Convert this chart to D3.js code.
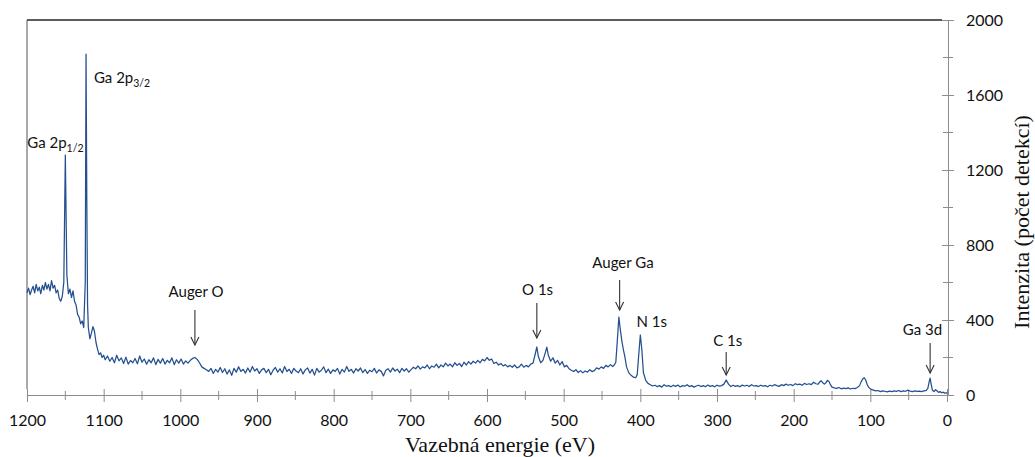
<!DOCTYPE html>
<html>
<head>
<meta charset="utf-8">
<script src="https://cdn.jsdelivr.net/npm/d3@7"></script>
<style>
  body { margin: 0; background: #fff; }
  svg { display: block; }
</style>
</head>
<body>
<svg id="xps" width="1035" height="457"></svg>
<script>
// XPS survey spectrum: [binding energy (eV), counts]
const spectrum = [
  [1200,545],[1198,570],[1196,535],[1194,560],[1192,580],[1190,545],[1188,590],[1186,555],[1184,575],[1182,540],
  [1180,585],[1178,560],[1176,600],[1174,565],[1172,590],[1170,555],[1168,610],[1166,570],[1164,585],[1162,545],
  [1160,560],[1158,515],[1156,500],[1154,525],[1152,600],[1150,1280],[1148,640],[1146,540],[1144,565],[1142,520],
  [1140,555],[1138,500],[1136,480],[1134,430],[1132,415],[1130,380],[1128,395],[1126,360],[1124,600],[1123,1818],
  [1122,1050],[1121,480],[1120,360],[1118,300],[1116,330],[1114,365],[1112,340],[1110,280],[1108,245],[1106,215],
  [1104,225],[1102,200],[1100,212],
  [1098,188],[1095,208],[1092,180],[1089,200],[1086,172],[1083,212],[1080,182],[1077,198],[1074,168],[1071,202],
  [1068,165],[1065,184],[1062,172],[1059,195],[1056,166],[1053,208],[1050,175],[1047,192],[1044,164],[1041,188],
  [1038,172],[1035,198],[1032,162],[1029,190],[1026,170],[1023,195],[1020,165],[1017,185],[1014,172],[1011,198],
  [1008,162],[1005,188],[1002,170],[999,192],[996,165],[993,182],[990,170],[987,185],[984,195],[981,200],
  [978,190],[975,172],[972,150],[969,142],[966,135],
  [963,126],[960,142],[957,115],[954,137],[951,122],[948,147],[945,120],[942,140],[939,112],[936,134],
  [933,105],[930,142],[927,122],[924,150],[921,126],[918,137],[915,117],[912,144],[909,122],[906,152],
  [903,128],[900,140],[897,115],[894,134],[891,142],[888,119],[885,137],[882,108],[879,132],[876,147],
  [873,122],[870,140],[867,117],[864,152],[861,125],[858,137],[855,115],[852,142],[849,128],[846,119],
  [843,140],[840,112],[837,134],[834,144],[831,117],[828,137],[825,106],[822,142],[819,122],[816,132],
  [813,150],[810,119],[807,138],[804,115],[801,134],[798,126],[795,142],[792,112],[789,137],[786,122],
  [783,152],[780,126],[777,137],[774,117],[771,140],[768,128],[765,144],[762,119],[759,136],[756,115],
  [753,132],[750,124],[747,142],[744,117],[741,134],[738,126],[735,102],[732,132],[729,140],[726,122],
  [723,144],[720,128],[717,138],[714,119],[711,142],[708,128],[705,140],[702,122],
  [699,135],[696,148],[693,140],[690,155],[687,138],[684,150],[681,145],[678,160],[675,140],[672,155],
  [669,148],[666,165],[663,145],[660,160],[657,150],[654,170],[651,155],[648,165],[645,150],[642,172],
  [639,158],[636,168],[633,152],[630,175],[627,160],[624,178],[621,165],[618,180],[615,170],[612,185],
  [609,172],[606,190],[603,182],[600,200],[597,185],[594,192],[591,168],[588,175],[585,160],[582,168],
  [579,155],[576,162],[573,150],[570,158],[567,148],[564,160],[561,145],[558,150],[555,165],[552,148],
  [549,158],[546,150],[543,165],
  [540,170],[537,220],[535,256],[533,205],[530,172],[527,185],[524,225],[522,255],[520,212],[517,180],
  [514,198],[511,170],[508,185],[505,160],[502,178],[499,150],[496,158],[493,140],[490,132],[487,125],
  [484,135],[481,120],[478,130],[475,118],[472,128],[469,122],[466,135],[463,125],[460,130],[457,145],
  [454,138],[451,150],[448,142],[445,158],[442,150],[439,162],[436,152],[434,160],[432,175],[430,290],
  [428,416],[426,345],[424,285],[422,240],[420,200],[418,150],[415,118],[412,105],[409,95],[406,92],
  [404,110],[402,220],[400,320],[398,240],[396,120],[393,78],[390,62],
  [387,55],[384,48],[381,52],[378,45],[375,50],[372,42],[369,55],[366,47],[363,50],[360,44],
  [357,52],[354,46],[351,53],[348,43],[345,50],[342,47],[339,55],[336,45],[333,50],[330,42],
  [327,48],[324,52],[321,45],[318,50],[315,44],[312,53],[309,46],[306,50],[303,44],[300,52],
  [297,47],[294,50],[291,58],[288,80],[285,58],[282,45],[279,52],[276,46],[273,50],[270,44],
  [267,53],[264,48],[261,52],[258,45],[255,55],[252,48],[249,50],[246,45],[243,52],[240,47],
  [237,50],[234,44],[231,52],[228,48],[225,55],[222,50],[219,46],[216,55],[213,50],[210,58],
  [207,52],[204,56],[201,50],[198,60],[195,55],[192,58],[189,52],[186,62],[183,56],[180,60],
  [177,55],[174,68],[171,60],[168,58],[166,70],[164,76],[162,65],[160,58],[158,65],[156,78],
  [154,72],[152,55],[150,42],[147,38],[144,35],[141,40],[138,33],[135,37],[132,34],[129,38],
  [126,32],[123,36],[120,34],[117,40],[114,50],[112,70],[110,85],[108,92],[106,80],[104,55],
  [102,40],[99,30],[96,26],[93,22],[90,24],[87,18],[84,22],[81,20],[78,17],[75,21],
  [72,18],[69,22],[66,19],[63,24],[60,18],[57,22],[54,20],[51,26],[48,21],[45,18],
  [42,22],[39,19],[36,21],[33,18],[30,22],[27,25],[25,35],[23,75],[22,90],[21,65],
  [19,25],[17,18],[15,28],[13,22],[11,14],[9,18],[7,12],[5,15],[3,10],[1,12],[0,8]
];

const xMajor = [1200, 1100, 1000, 900, 800, 700, 600, 500, 400, 300, 200, 100, 0];
const xMinor = [1150, 1050, 950, 850, 750, 650, 550, 450, 350, 250, 150, 50];
const yMajor = [0, 400, 800, 1200, 1600, 2000];
const yMinor = [200, 600, 1000, 1400, 1800];

// peak labels: text anchor (eV, counts), arrow from / to counts (null = no arrow)
const peakNames  = ["Ga 2p|1/2", "Ga 2p|3/2", "Auger O", "O 1s", "Auger Ga", "N 1s", "C 1s", "Ga 3d"];
const labelEV    = [1163, 1076, 979.5, 534, 422.6, 385, 286, 32];
const labelCount = [1317, 1664, 523, 533, 677, 363, 261, 320];
const arrowEV    = [null, null, 981, 535, 427, null, 288, 22];
const arrowTop   = [null, null, 453, 491, 613, null, 229, 277];
const arrowTip   = [null, null, 267, 304, 453, null, 107, 117];

const svg = d3.select("#xps");
const plotL = 27, plotR = 947, plotT = 20, plotB = 395;

const x = d3.scaleLinear().domain([1200, 0]).range([plotL, plotR]);
const y = d3.scaleLinear().domain([0, 2000]).range([plotB, plotT]);

const axisGrey = "#8c8c8c";
const sans = "Lato, 'Open Sans', sans-serif";
const serif = "'Liberation Serif', 'DejaVu Serif', serif";

// plot area border (top + left)
svg.append("line").attr("x1", plotL).attr("x2", 942).attr("y1", plotT).attr("y2", plotT)
  .attr("stroke", "#262626").attr("stroke-width", 1.5);
svg.append("line").attr("x1", plotL).attr("x2", plotL).attr("y1", plotT).attr("y2", 389)
  .attr("stroke", "#555").attr("stroke-width", 1);

// x axis
const gx = svg.append("g").attr("transform", `translate(0,${plotB})`)
  .call(d3.axisBottom(x).tickValues(xMajor).tickSizeOuter(0).tickSize(7).tickFormat(d3.format("d")));
gx.select(".domain").attr("stroke", axisGrey);
gx.selectAll(".tick line").attr("y1", -6).attr("stroke", axisGrey);
gx.selectAll(".tick text").attr("y", 31).attr("dy", 0)
  .attr("font-family", sans).attr("font-size", 16).attr("fill", "#111");
gx.selectAll(".minor").data(xMinor).join("line").attr("class", "minor")
  .attr("x1", d => x(d)).attr("x2", d => x(d)).attr("y1", -4).attr("y2", 5)
  .attr("stroke", axisGrey);

// y axis on the right
const gy = svg.append("g").attr("transform", `translate(948,0)`)
  .call(d3.axisRight(y).tickValues(yMajor).tickSizeOuter(0).tickSize(6).tickPadding(12)
    .tickFormat(d3.format("d")));
gy.select(".domain").attr("stroke", axisGrey);
gy.selectAll(".tick line").attr("x1", -6).attr("stroke", axisGrey);
gy.selectAll(".tick text").attr("font-family", sans).attr("font-size", 16).attr("fill", "#111")
  .attr("dy", "0.36em");
gy.selectAll(".minor").data(yMinor).join("line").attr("class", "minor")
  .attr("y1", d => y(d)).attr("y2", d => y(d)).attr("x1", -5).attr("x2", 5)
  .attr("stroke", axisGrey);

// spectrum
const line = d3.line().x(d => x(d[0])).y(d => y(d[1]));
svg.append("path").datum(spectrum).attr("d", line)
  .attr("fill", "none").attr("stroke", "#24508f").attr("stroke-width", 1.25)
  .attr("stroke-linejoin", "round");

// peak labels
peakNames.forEach((name, i) => {
  const parts = name.split("|");
  const t = svg.append("text")
    .attr("x", x(labelEV[i])).attr("y", y(labelCount[i]))
    .attr("text-anchor", "middle")
    .attr("font-family", sans).attr("font-size", 15).attr("fill", "#111")
    .text(parts[0]);
  if (parts[1]) {
    t.append("tspan").attr("font-size", 10.5).attr("dy", 4).text(parts[1]);
  }
  if (arrowEV[i] !== null) {
    const ax = x(arrowEV[i]), y0 = y(arrowTop[i]), y1 = y(arrowTip[i]);
    svg.append("line").attr("x1", ax).attr("x2", ax).attr("y1", y0).attr("y2", y1)
      .attr("stroke", "#333").attr("stroke-width", 1.1);
    svg.append("path")
      .attr("d", `M${ax - 4},${y1 - 8}L${ax},${y1}L${ax + 4},${y1 - 8}`)
      .attr("fill", "none").attr("stroke", "#333").attr("stroke-width", 1.1);
  }
});

// axis titles
svg.append("text").attr("x", 500).attr("y", 452).attr("text-anchor", "middle")
  .attr("font-family", serif).attr("font-size", 22).attr("fill", "#111")
  .text("Vazebná energie (eV)");
svg.append("text").attr("transform", "translate(1029,222) rotate(-90)")
  .attr("text-anchor", "middle")
  .attr("font-family", serif).attr("font-size", 22).attr("fill", "#111")
  .text("Intenzita (počet detekcí)");
</script>
</body>
</html>
